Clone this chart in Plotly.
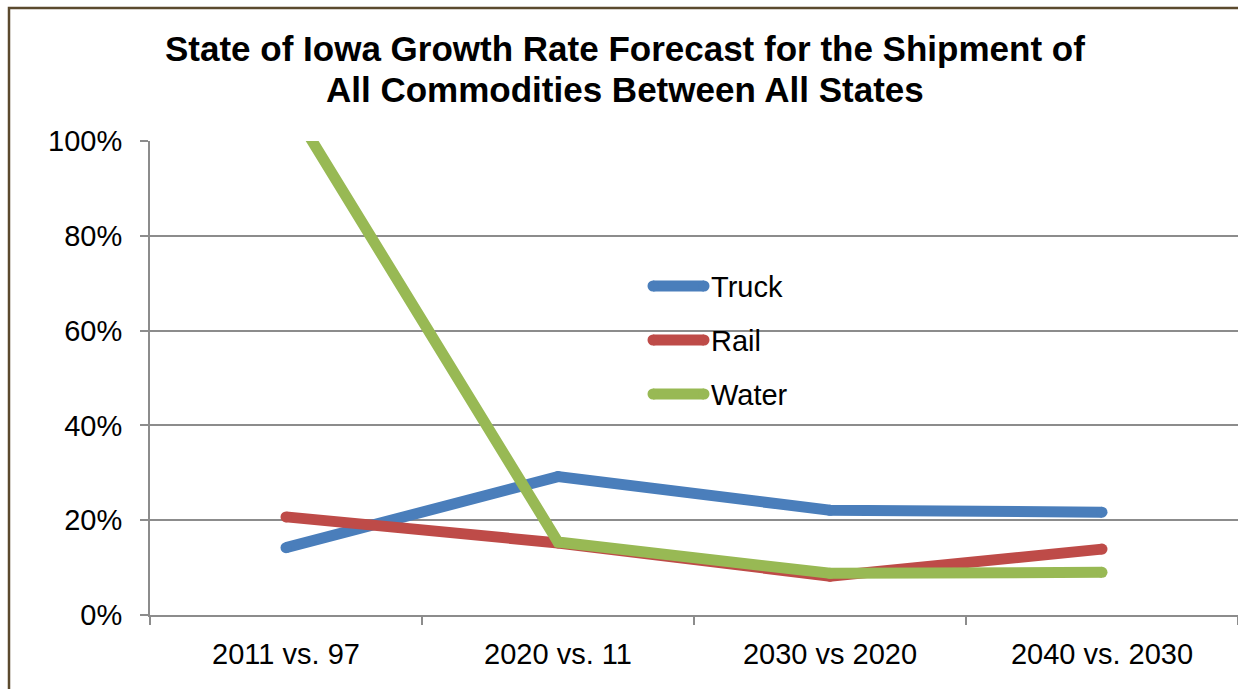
import plotly.graph_objects as go

# Growth rate forecast by period and mode (fractions; axis formatted as %)
categories = ["2011 vs. 97", "2020 vs. 11", "2030 vs 2020", "2040 vs. 2030"]
truck = [0.142, 0.292, 0.221, 0.217]
rail = [0.207, 0.152, 0.082, 0.139]
water = [1.09, 0.154, 0.088, 0.090]

series_names = ["Truck", "Rail", "Water"]
series_values = [truck, rail, water]
series_colors = ["#4A7EBB", "#BE4B48", "#98B954"]

FONT = "Arial, Liberation Sans, sans-serif"
TEXT_SIZE = 29
LINE_W = 11

fig = go.Figure()
for name, vals, color in zip(series_names, series_values, series_colors):
    fig.add_trace(go.Scatter(
        x=categories, y=vals, name=name, mode="lines+markers",
        line=dict(color=color, width=LINE_W),
        marker=dict(color=color, size=LINE_W, line=dict(width=0)),
        showlegend=False, cliponaxis=True,
    ))

# Page geometry (pixels) used to place decorations in paper coordinates
W, H = 1238, 689
L, R, T, B = 150, 0, 141, 74
pw, ph = W - L - R, H - T - B


def px_x(x):
    return (x - L) / pw


def px_y(y):
    return (H - B - y) / ph


shapes = [
    # outer chart frame
    dict(type="rect", xref="paper", yref="paper",
         x0=px_x(9), x1=px_x(W + 20), y0=px_y(H + 20), y1=px_y(8),
         line=dict(color="#5B4A2E", width=2.5), fillcolor="rgba(0,0,0,0)", layer="below"),
]
annotations = []

# Legend inside the plot area
leg_x0, leg_x1 = 653, 704
leg_ys = [286, 340, 394]
for name, color, ly in zip(series_names, series_colors, leg_ys):
    shapes.append(dict(type="line", xref="paper", yref="paper",
                       x0=px_x(leg_x0), x1=px_x(leg_x1), y0=px_y(ly), y1=px_y(ly),
                       line=dict(color=color, width=LINE_W)))
    for cx in (leg_x0, leg_x1):
        shapes.append(dict(type="circle", xref="paper", yref="paper",
                           xsizemode="pixel", ysizemode="pixel",
                           xanchor=px_x(cx), yanchor=px_y(ly),
                           x0=-LINE_W / 2, x1=LINE_W / 2, y0=-LINE_W / 2, y1=LINE_W / 2,
                           fillcolor=color, line=dict(width=0)))
    annotations.append(dict(text=name, xref="paper", yref="paper",
                            x=px_x(709), y=px_y(ly + 1), xanchor="left", yanchor="middle",
                            showarrow=False, font=dict(family=FONT, size=TEXT_SIZE, color="#000000")))

# Two-line bold title, one annotation per line for tight spacing
title_lines = ["State of Iowa Growth Rate Forecast for the Shipment of",
               "All Commodities Between All States"]
for line, cy in zip(title_lines, [48, 89]):
    annotations.append(dict(
        text=f"<b>{line}</b>",
        xref="paper", yref="paper", x=px_x(625), y=px_y(cy), xanchor="center", yanchor="middle",
        showarrow=False, align="center",
        font=dict(family=FONT, size=35, color="#000000")))

fig.update_layout(
    width=W, height=H,
    margin=dict(l=L, r=R, t=T, b=B, pad=0),
    paper_bgcolor="#FFFFFF", plot_bgcolor="#FFFFFF",
    font=dict(family=FONT, size=TEXT_SIZE, color="#000000"),
    shapes=shapes, annotations=annotations,
    showlegend=False,
)

fig.update_yaxes(
    range=[0, 1], tickvals=[0, 0.2, 0.4, 0.6, 0.8, 1.0], tickformat=".0%",
    showgrid=True, gridcolor="#8C8C8C", gridwidth=2,
    showline=True, linecolor="#8C8C8C", linewidth=2,
    ticks="outside", ticklen=8, tickcolor="#8C8C8C", tickwidth=2,
    ticklabelstandoff=12, zeroline=False,
    tickfont=dict(family=FONT, size=TEXT_SIZE, color="#000000"),
)
fig.update_xaxes(
    type="category", tickson="boundaries", range=[-0.5, 3.5],
    showgrid=False, showline=True, linecolor="#8C8C8C", linewidth=2,
    ticks="outside", ticklen=8, tickcolor="#8C8C8C", tickwidth=2,
    ticklabelstandoff=12,
    tickfont=dict(family=FONT, size=TEXT_SIZE, color="#000000"),
)

fig.write_html("out.html")
